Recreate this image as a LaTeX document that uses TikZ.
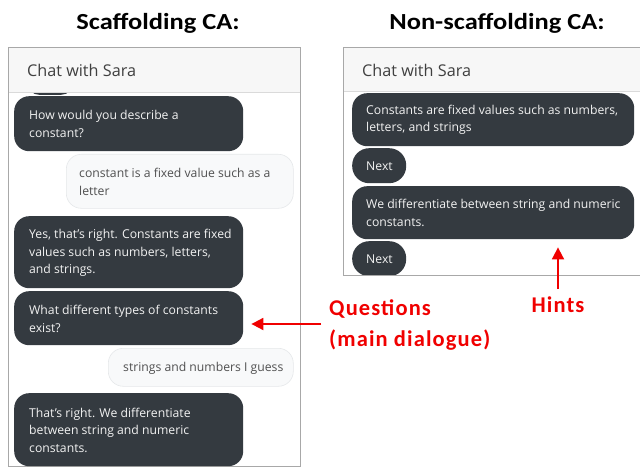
\documentclass[tikz,border=0pt]{standalone}
\usepackage{fontspec}
\usetikzlibrary{arrows.meta,calc}
\setmainfont{Open Sans}
\newfontfamily\titlefont{Carlito}
\newfontfamily\redfont[LetterSpace=5]{Carlito}
\definecolor{bubdark}{HTML}{343A40}
\definecolor{bubtext}{HTML}{F2F2F2}
\definecolor{bublight}{HTML}{F8F9FA}
\definecolor{bubedge}{HTML}{E6E8EA}
\definecolor{usertext}{HTML}{505050}
\definecolor{panedge}{HTML}{A8A8A8}
\definecolor{headfill}{HTML}{F7F7F7}
\definecolor{headline}{HTML}{DADADA}
\definecolor{hintred}{HTML}{F00000}
\tikzset{
  title/.style={font=\titlefont\bfseries\fontsize{23}{26}\selectfont, inner sep=0pt, xscale=1.15},
  panel/.style={draw=panedge, line width=0.9pt, fill=white, inner sep=0pt, anchor=north west},
  header/.style={fill=headfill, inner sep=0pt, anchor=north west},
  headtext/.style={font=\fontsize{16.2}{18}\selectfont, text=black!75, anchor=west, inner sep=0pt},
  dark/.style={fill=bubdark, rounded corners=15pt, anchor=north west, inner sep=0pt},
  light/.style={fill=bublight, draw=bubedge, line width=0.6pt, rounded corners=15pt, anchor=north west, inner sep=0pt},
  dtxt/.style={anchor=west, inner sep=0pt, align=left, text=bubtext, font=\fontsize{12.2}{17.5}\selectfont},
  ltxt/.style={anchor=west, inner sep=0pt, align=left, text=usertext, font=\fontsize{12.2}{17.5}\selectfont},
  redlabel/.style={font=\redfont\bfseries\fontsize{22.5}{31}\selectfont, text=hintred, inner sep=0pt, align=left},
  redarrow/.style={draw=hintred, line width=1.8pt, -{Triangle[length=12pt,width=12pt]}},
}
\begin{document}
\begin{tikzpicture}[x=1pt,y=-1pt]
\useasboundingbox (0,0) rectangle (640,468);
% titles
\node[title] (t1) at (158,23) {Scaffolding CA:};
\node[title] (t2) at (497,23) {Non-scaffolding CA:};
% ---------- left panel ----------
\node[panel, minimum width=292pt, minimum height=419pt] (lp) at (8,47) {};
\begin{scope}
\clip (8,47) rectangle (300,466);
\node[dark, rounded corners=12pt, minimum width=46pt, minimum height=20pt, anchor=south west] (b0) at (27,95) {};
\node[header, minimum width=292pt, minimum height=45pt] (lh) at (8,47) {};
\end{scope}
\draw[headline, line width=0.8pt] (lh.south west) -- (lh.south east);
\draw[panedge, line width=0.9pt] (lp.north west) rectangle (lp.south east);
\node[headtext] (lht) at (27,70) {Chat with Sara};
% bubbles
\node[dark, minimum width=229pt, minimum height=55pt] (b1) at (14,96) {};
\node[dtxt] (b1t) at (29,124) {How would you describe a\\constant?};
\node[light, minimum width=227pt, minimum height=54pt] (b2) at (66,154) {};
\node[ltxt] (b2t) at (79,182) {constant is a fixed value such as a\\letter};
\node[dark, minimum width=229pt, minimum height=72pt] (b3) at (14,216) {};
\node[dtxt] (b3t) at (29,253) {Yes, that's right. Constants are fixed\\values such as numbers, letters,\\and strings.};
\node[dark, minimum width=229pt, minimum height=54pt] (b4) at (14,291) {};
\node[dtxt] (b4t) at (29,319) {What different types of constants\\exist?};
\node[light, minimum width=185pt, minimum height=38pt] (b5) at (108,348) {};
\node[ltxt] (b5t) at (123,368) {strings and numbers I guess};
\node[dark, minimum width=229pt, minimum height=73pt] (b6) at (14,393) {};
\node[dtxt] (b6t) at (29,430) {That's right. We differentiate\\between string and numeric\\constants.};
% ---------- right panel ----------
\begin{scope}
\clip (300,40) rectangle (640,276);
\node[panel, minimum width=300pt, minimum height=228pt] (rp) at (343,47) {};
\node[header, minimum width=300pt, minimum height=44pt] (rh) at (343,47) {};
\draw[headline, line width=0.8pt] (rh.south west) -- (rh.south east);
\draw[panedge, line width=0.9pt] (rp.south west) -- (rp.north west) -- (rp.north east);
\node[headtext] (rht) at (362,70) {Chat with Sara};
\node[dark, minimum width=282pt, minimum height=53pt] (r1) at (352,93) {};
\node[dtxt] (r1t) at (366,120) {Constants are fixed values such as numbers,\\letters, and strings};
\node[dark, rounded corners=17pt, minimum width=54pt, minimum height=35pt] (n1) at (352,148) {};
\node[dtxt] (n1t) at (366,166) {Next};
\node[dark, minimum width=282pt, minimum height=53pt] (r2) at (352,186) {};
\node[dtxt] (r2t) at (366,213) {We differentiate between string and numeric\\constants.};
\node[dark, rounded corners=17pt, minimum width=54pt, minimum height=35pt] (n2) at (352,241) {};
\node[dtxt] (n2t) at (366,259) {Next};
\fill[white] (343,275) rectangle (640,278);
\draw[panedge, line width=0.9pt] (rp.south west) -- (rp.south east);
\end{scope}
% ---------- annotations ----------
\node[redlabel, anchor=west] (q) at (329,325) {Questions\\(main dialogue)};
\coordinate (qs) at (321,324);
\draw[redarrow] (qs) -- ($(b4.east |- qs)+(8,0)$);
\node[redlabel, anchor=north] (h) at (558,297) {Hints};
\draw[redarrow] ($(h.north)+(0,-8)$) -- ($(r2.south -| h.north)+(0,8)$);
\end{tikzpicture}
\end{document}
